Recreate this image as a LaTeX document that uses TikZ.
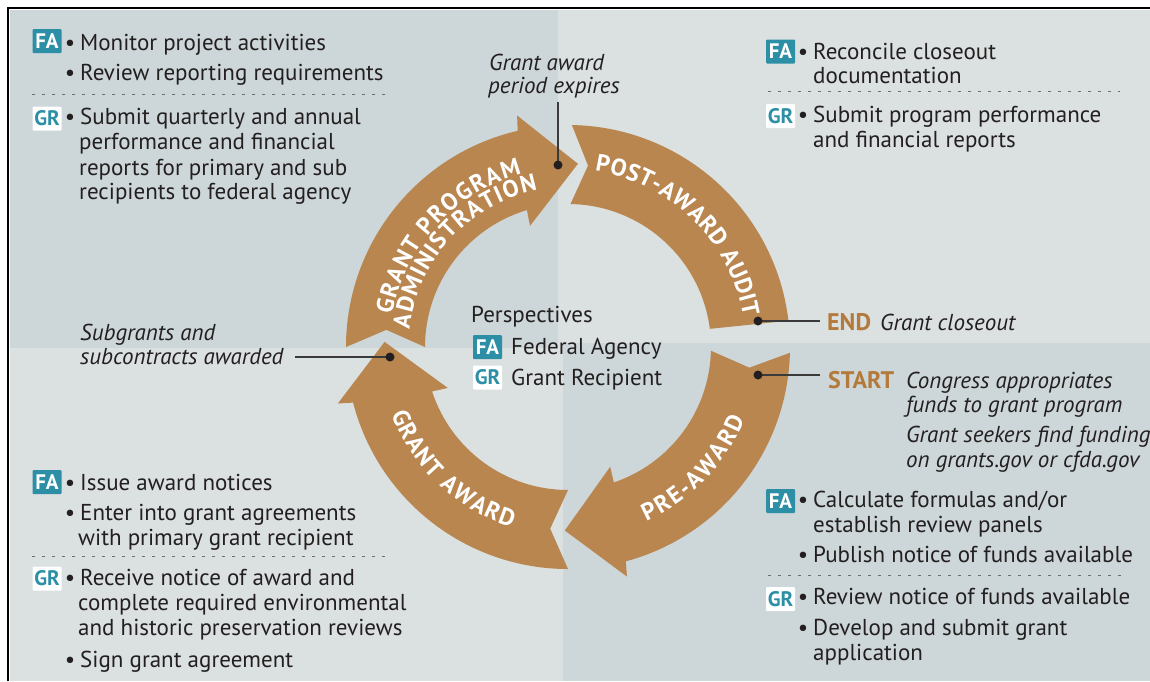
\documentclass[tikz,border=0pt]{standalone}
\usepackage{fontspec}
\setmainfont{PT Sans}
\usetikzlibrary{decorations.text}
\definecolor{bgL}{HTML}{DBE0E0}
\definecolor{bgD}{HTML}{CDD6D8}
\definecolor{arrowc}{HTML}{B9864F}
\definecolor{tealc}{HTML}{2C8FA6}
\definecolor{textc}{HTML}{231F20}
\definecolor{brownc}{HTML}{B47A3C}
\definecolor{linec}{HTML}{3A3A3A}
\definecolor{dotc}{HTML}{6A6E70}
\newcommand{\myBody}{\fontsize{23}{25}\selectfont}
\newcommand{\myLbl}{\fontsize{24}{24}\selectfont\bfseries}
\newcommand{\myBadge}{\fontsize{21}{21}\selectfont\bfseries}
\newcommand{\gArrow}[4]{%
  \fill[arrowshape] (#1:222) -- (#2:182.5) -- (#1:143)
    arc[start angle=#1, end angle={#3+4.3}, radius=143pt]
    -- ({#3+5}:127) -- (#4:183.5) -- (#3:237) -- ({#3+0.7}:222)
    arc[start angle={#3+0.7}, end angle=#1, radius=222pt] -- cycle;}
\begin{document}
\begin{tikzpicture}[x=1pt,y=-1pt,
  txt/.style={anchor=base west, inner sep=0pt, font=\myBody, text=textc},
  itxt/.style={anchor=base west, inner sep=0pt, font=\myBody\itshape, text=textc},
  bul/.style={anchor=base, inner sep=0pt, font=\myBody, text=textc},
  fabadge/.style={fill=tealc, text=white, font=\myBadge, minimum width=29pt, minimum height=24pt, inner sep=0pt, rounded corners=1pt},
  grbadge/.style={fill=white, text=tealc, font=\myBadge, minimum width=29pt, minimum height=24pt, inner sep=0pt, rounded corners=1pt},
  dotline/.style={draw=dotc, line width=1pt, dash pattern=on 3pt off 7pt},
  conn/.style={draw=linec, line width=1.3pt},
  pin/.style={fill=textc},
  arrowshape/.style={fill=arrowc},
  lbl/.style={decorate, decoration={text along path, text color=white, text align={fit to path}}},
  endtxt/.style={anchor=base west, inner sep=0pt, font=\fontsize{24}{24}\selectfont\bfseries, text=brownc}
]
\useasboundingbox (0,0) rectangle (1150,681);
% background
\fill[white] (0,0) rectangle (1150,681);
\fill[bgL] (9.5,9.5) rectangle (1150,681);
\fill[bgD] (9.5,9.5) rectangle (558,348);
\fill[bgD] (563,343) rectangle (1150,681);
\draw[black, line width=2.6pt] (8,681) -- (8,8) -- (1150,8);

% ring of arrows
\begin{scope}[shift={(568,347)}, y=1pt]
  \gArrow{180}{174.6}{102.4}{86.9}
  \gArrow{270}{264.4}{193.8}{178.4}
  \gArrow{358.5}{353.5}{284.4}{269}
  \fill[arrowshape] (89:222) -- (83.7:182.5) -- (89:143)
     arc[start angle=89, end angle=7.3, radius=143pt] -- (6.8:222)
     arc[start angle=6.8, end angle=89, radius=222pt] -- cycle;
  \path[lbl, decoration={text={|\myLbl|GRANT PROGRAM}}]
     (169.6:179) arc[start angle=169.6, end angle=104.9, radius=179pt];
  \path[lbl, decoration={text={|\myLbl|ADMINISTRATION}}]
     (173.7:159.5) arc[start angle=173.7, end angle=101, radius=159.5pt];
  \path[lbl, decoration={text={|\myLbl|POST-AWARD AUDIT}}]
     (81.3:178) arc[start angle=81.3, end angle=9.9, radius=178pt];
  \path[lbl, decoration={text={|\myLbl|PRE-AWARD}}]
     (-65.8:191) arc[start angle=-65.8, end angle=-22.3, radius=191pt];
  \path[lbl, decoration={text={|\myLbl|GRANT AWARD}}]
     (200.8:189) arc[start angle=200.8, end angle=252.7, radius=189pt];
\end{scope}

% top-left block
\node[fabadge] (tlfa) at (47,41) {FA};
\node[bul] (tlb1) at (70,50) {•};
\node[txt] (tl1) at (80,50) {Monitor project activities};
\node[bul] (tlb2) at (70,80) {•};
\node[txt] (tl2) at (80,80) {Review reporting requirements};
\coordinate (tld1) at (32,94); \coordinate (tld2) at (387,94);
\draw[dotline] (tld1) -- (tld2);
\node[grbadge] (tlgr) at (47,118.5) {GR};
\node[bul] (tlb3) at (70,124) {•};
\node[txt] (tl3) at (80,124) {Submit quarterly and annual};
\node[txt] (tl4) at (79,149) {performance and financial};
\node[txt] (tl5) at (79,175) {reports for primary and sub};
\node[txt] (tl6) at (79,199) {recipients to federal agency};

% top-right block
\node[fabadge] (trfa) at (780.5,51.5) {FA};
\node[bul] (trb1) at (803,59) {•};
\node[txt] (tr1) at (813,59) {Reconcile closeout};
\node[txt] (tr2) at (813,83) {documentation};
\coordinate (trd1) at (768,91); \coordinate (trd2) at (1120,91);
\draw[dotline] (trd1) -- (trd2);
\node[grbadge] (trgr) at (780.5,116) {GR};
\node[bul] (trb2) at (803,122) {•};
\node[txt] (tr3) at (813,122) {Submit program performance};
\node[txt] (tr4) at (813,147) {and financial reports};

% top centre annotation
\node[itxt] (ga1) at (489,70) {Grant award};
\node[itxt] (ga2) at (488,93) {period expires};
\coordinate (gal) at (558,102);
\coordinate (gad) at (558,165);
\draw[conn] (gal) -- (gad);
\fill[pin] (gad) circle[radius=4.5pt];

% centre legend
\node[txt] (persp) at (471,322) {Perspectives};
\node[fabadge] (cfa) at (487.5,347) {FA};
\node[txt] (cfat) at (511,354) {Federal Agency};
\node[grbadge] (cgr) at (487.5,377.5) {GR};
\node[txt] (cgrt) at (511,385) {Grant Recipient};

% left annotation
\node[itxt] (sg1) at (80,340) {Subgrants and};
\node[itxt] (sg2) at (80,364) {subcontracts awarded};
\coordinate (sgl) at (295,357);
\coordinate (sgd) at (390,357);
\draw[conn] (sgl) -- (sgd);
\fill[pin] (sgd) circle[radius=4.5pt];

% bottom-left block
\node[fabadge] (blfa) at (47,482) {FA};
\node[bul] (blb1) at (70,490) {•};
\node[txt] (bl1) at (80,490) {Issue award notices};
\node[bul] (blb2) at (70,520) {•};
\node[txt] (bl2) at (80,520) {Enter into grant agreements};
\node[txt] (bl3) at (78,545) {with primary grant recipient};
\coordinate (bld1) at (32,556); \coordinate (bld2) at (385,556);
\draw[dotline] (bld1) -- (bld2);
\node[grbadge] (blgr) at (47,578.5) {GR};
\node[bul] (blb3) at (70,585) {•};
\node[txt] (bl4) at (80,585) {Receive notice of award and};
\node[txt] (bl5) at (78,610) {complete required environmental};
\node[txt] (bl6) at (78,635) {and historic preservation reviews};
\node[bul] (blb4) at (70,667) {•};
\node[txt] (bl7) at (80,667) {Sign grant agreement};

% END / START annotations
\coordinate (endd) at (758,321);
\coordinate (endl) at (820,321);
\draw[conn] (endd) -- (endl);
\fill[pin] (endd) circle[radius=4.5pt];
\node[endtxt] (endk) at (827,330) {END};
\node[itxt] (endt) at (880,330) {Grant closeout};
\coordinate (std) at (758,375);
\coordinate (stl) at (820,375);
\draw[conn] (std) -- (stl);
\fill[pin] (std) circle[radius=4.5pt];
\node[endtxt] (stk) at (828,388) {START};
\node[itxt] (st1) at (906,388) {Congress appropriates};
\node[itxt] (st2) at (906,412) {funds to grant program};
\node[itxt] (st3) at (906,442) {Grant seekers find funding};
\node[itxt] (st4) at (906,467) {on grants.gov or cfda.gov};

% bottom-right block
\node[fabadge] (brfa) at (780.5,501) {FA};
\node[bul] (brb1) at (803,507) {•};
\node[txt] (br1) at (813,507) {Calculate formulas and/or};
\node[txt] (br2) at (813,532) {establish review panels};
\node[bul] (brb2) at (803,562) {•};
\node[txt] (br3) at (813,562) {Publish notice of funds available};
\coordinate (brd1) at (768,575); \coordinate (brd2) at (1122,575);
\draw[dotline] (brd1) -- (brd2);
\node[grbadge] (brgr) at (780.5,599) {GR};
\node[bul] (brb3) at (803,604) {•};
\node[txt] (br4) at (813,604) {Review notice of funds available};
\node[bul] (brb4) at (803,635) {•};
\node[txt] (br5) at (813,635) {Develop and submit grant};
\node[txt] (br6) at (813,660) {application};
\end{tikzpicture}
\end{document}
